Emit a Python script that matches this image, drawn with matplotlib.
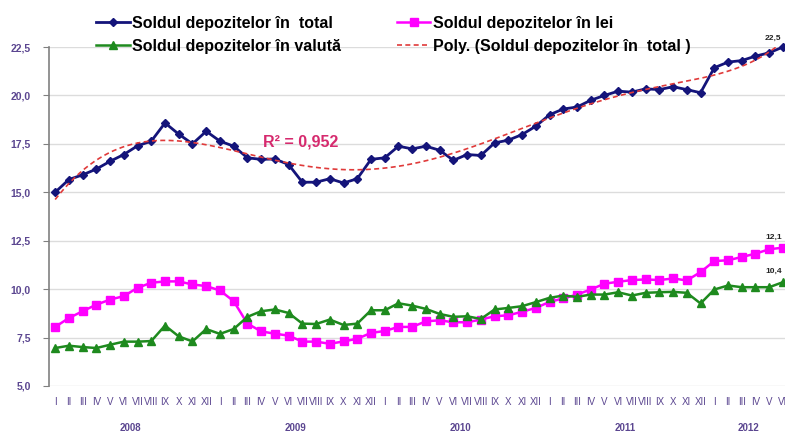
import matplotlib
matplotlib.use("Agg")
import matplotlib.pyplot as plt
import numpy as np

# monthly balances, Jan 2008 .. Jun 2012
luni = ["I", "II", "III", "IV", "V", "VI", "VII", "VIII", "IX", "X", "XI", "XII"]
ani = ["2008", "2009", "2010", "2011", "2012"]

total = [15.0, 15.66, 15.9, 16.2, 16.6, 16.95, 17.4, 17.64, 18.58, 18.0, 17.5, 18.15,
         17.64, 17.38, 16.78, 16.7, 16.72, 16.43, 15.52, 15.52, 15.7, 15.48, 15.7, 16.7,
         16.78, 17.38, 17.24, 17.38, 17.17, 16.65, 16.95, 16.9, 17.55, 17.69, 17.98, 18.41,
         19.0, 19.3, 19.4, 19.75, 20.0, 20.22, 20.17, 20.34, 20.3, 20.45, 20.3, 20.14,
         21.43, 21.72, 21.8, 22.03, 22.2, 22.5]
lei = [8.05, 8.51, 8.86, 9.2, 9.46, 9.64, 10.07, 10.33, 10.4, 10.4, 10.24, 10.16,
       9.93, 9.38, 8.22, 7.82, 7.7, 7.6, 7.29, 7.29, 7.18, 7.3, 7.44, 7.74,
       7.84, 8.05, 8.05, 8.34, 8.39, 8.29, 8.29, 8.43, 8.6, 8.65, 8.83, 9.03,
       9.34, 9.52, 9.72, 9.98, 10.28, 10.38, 10.47, 10.5, 10.47, 10.55, 10.45, 10.88,
       11.45, 11.49, 11.66, 11.83, 12.06, 12.14]
valuta = [6.96, 7.08, 7.01, 6.96, 7.13, 7.29, 7.29, 7.32, 8.12, 7.56, 7.3, 7.94,
          7.69, 7.94, 8.57, 8.86, 8.95, 8.77, 8.22, 8.2, 8.43, 8.15, 8.22, 8.91,
          8.91, 9.27, 9.15, 8.98, 8.72, 8.57, 8.6, 8.46, 8.95, 9.03, 9.12, 9.33,
          9.55, 9.67, 9.6, 9.72, 9.72, 9.84, 9.67, 9.81, 9.84, 9.86, 9.81, 9.26,
          9.98, 10.19, 10.1, 10.1, 10.1, 10.36]

x = np.arange(len(total))
# Excel-style polynomial trendline (order 6) on the total series
trend = np.polynomial.Polynomial.fit(x, total, 6)
xs = np.linspace(0, len(total) - 1, 300)

fig = plt.figure(figsize=(7.85, 4.34), dpi=100)
ax = fig.add_axes([0.0624, 0.1106, 0.9376, 0.7811])

purple = "#5b4690"
ax.plot(x, total, color="#14147a", lw=2, marker="D", ms=4.5, clip_on=False, zorder=5,
        label="Soldul depozitelor în  total")
ax.plot(x, lei, color="#ff00ff", lw=1.8, marker="s", ms=6, clip_on=False, zorder=4,
        label="Soldul depozitelor în lei")
ax.plot(x, valuta, color="#1e8a1e", lw=1.8, marker="^", ms=6, clip_on=False, zorder=4,
        label="Soldul depozitelor în valută")
ax.plot(xs, trend(xs), color="#e03a3a", lw=1.2, ls=(0, (3, 2)), zorder=6,
        label="Poly. (Soldul depozitelor în  total )")

ax.text(17.9, 17.6, "R² = 0,952", color="#d62a6e", fontsize=11.5, fontweight="bold",
        family="Liberation Sans", ha="center", va="center")

# end-of-series value labels
for vals, dy in [(total, 0.25), (lei, 0.35), (valuta, 0.4)]:
    ax.text(x[-1] - 0.7, vals[-1] + dy, f"{vals[-1]:.1f}".replace(".", ","),
            fontsize=6, fontweight="bold", color="#222222", ha="center", va="bottom",
            family="Liberation Sans", clip_on=False)

ax.set_xlim(-0.45, 53.15)
ax.set_ylim(5, 22.5)
yt = np.arange(5, 22.6, 2.5)
ax.set_yticks(yt)
ax.set_yticklabels([f"{v:.1f}".replace(".", ",") for v in yt], fontsize=7.5,
                   fontweight="bold", color=purple, family="Liberation Sans")
ax.set_xticks(x)
ax.set_xticklabels([luni[i % 12] for i in x], fontsize=7, color=purple,
                   family="Liberation Sans")
ax.tick_params(axis="x", length=0, pad=8)
ax.tick_params(axis="y", length=4, color="#808080", pad=9)

for i, an in enumerate(ani):
    months = x[i * 12:(i + 1) * 12]
    ax.text(months.mean(), -0.124, an, transform=ax.get_xaxis_transform(),
            fontsize=7, fontweight="bold", color=purple, ha="center", va="center",
            family="Liberation Sans")

ax.grid(axis="y", color="#dcdcdc", lw=1)
ax.set_axisbelow(True)
for s in ["top", "right", "bottom"]:
    ax.spines[s].set_visible(False)
ax.spines["left"].set_color("#808080")
ax.spines["left"].set_linewidth(1.2)

h, l = ax.get_legend_handles_labels()
order = [0, 2, 1, 3]
fig.legend([h[i] for i in order], [l[i] for i in order], ncol=2,
           loc="upper left", bbox_to_anchor=(0.104, 0.997), frameon=False,
           prop={"family": "Liberation Sans", "weight": "bold", "size": 11.5},
           handlelength=2.1, handletextpad=0.15, columnspacing=3.5,
           labelspacing=0.52)

fig.savefig("out.png", dpi=100)
